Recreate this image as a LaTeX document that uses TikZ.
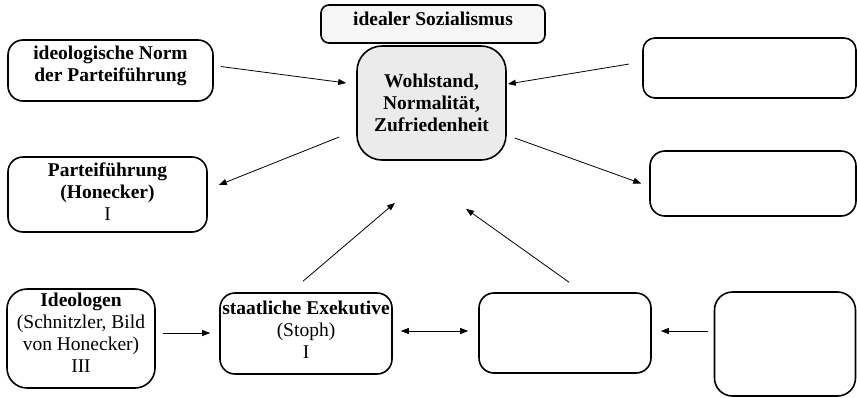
\documentclass[tikz,border=0pt]{standalone}
\usepackage{fontspec}
\setmainfont{Liberation Serif}
\usetikzlibrary{shapes,calc}
\usetikzlibrary{arrows.meta}

\definecolor{lightfill}{RGB}{246,246,246}
\definecolor{midfill}{RGB}{235,235,235}

\begin{document}
\begin{tikzpicture}[x=1pt, y=-1pt]
{\fontsize{19.5}{22}\selectfont
	\tikzstyle{box} = [rectangle, rounded corners=15pt, draw=black, line width=1.6pt, inner sep=0pt, align=center, fill=white]
	\tikzstyle{arrow} = [line width=0.8pt, -{Triangle[length=8pt,width=6pt]}]
	\tikzstyle{twoway} = [line width=0.8pt, {Triangle[length=8pt,width=6pt]}-{Triangle[length=8pt,width=6pt]}]

	\useasboundingbox (0,0) rectangle (857,397);

	\node (ideal) [box, rounded corners=8pt, fill=lightfill, minimum width=224pt, minimum height=38pt] at (433,24) {};
	\node (wohl) [box, rounded corners=25pt, fill=midfill, minimum width=149pt, minimum height=114pt] at (431.5,103) {\textbf{Wohlstand,}\\\textbf{Normalität,}\\\textbf{Zufriedenheit}};
	\node (norm) [box, minimum width=205pt, minimum height=61pt] at (110.5,70.5) {};
	\node (partei) [box, minimum width=199pt, minimum height=75pt] at (107.5,194.5) {};
	\node (rtop) [box, rounded corners=12pt, minimum width=213pt, minimum height=60pt] at (749.5,68) {};
	\node (rmid) [box, minimum width=206pt, minimum height=65pt] at (753,183.5) {};
	\node (ideologen) [box, rounded corners=20pt, minimum width=148pt, minimum height=99pt] at (81,338.5) {};
	\node (exekutive) [box, minimum width=172pt, minimum height=81pt] at (306,333.5) {};
	\node (bmid) [box, minimum width=172pt, minimum height=80pt] at (565,333) {};
	\node (bright) [box, rounded corners=18pt, minimum width=141pt, minimum height=104pt] at (785,344) {};

	% texts sit a little above the box centres
	\node (idealtext) [align=center] at (433,19) {\textbf{idealer Sozialismus}};
	\node (normtext) [align=center] at (110.5,66) {\textbf{ideologische Norm}\\\textbf{der Parteiführung}};
	\node (parteitext) [align=center] at (107.5,192) {\textbf{Parteiführung}\\\textbf{(Honecker)}\\I};
	\node (ideologentext) [align=center] at (81,333) {\textbf{Ideologen}\\(Schnitzler, Bild\\von Honecker)\\III};
	\node (exekutivetext) [align=center] at (306,330) {\textbf{staatliche Exekutive}\\(Stoph)\\I};

	\draw [arrow] ([shift={(7,-4)}]norm.east) -- ([shift={(-10,-20)}]wohl.west);
	\draw [arrow] ([shift={(-13,-4)}]rtop.west) -- ([shift={(1,-19)}]wohl.east);
	\draw [arrow] ([shift={(-17,34)}]wohl.west) -- ([shift={(11,-9.5)}]partei.east);
	\draw [arrow] ([shift={(8,35)}]wohl.east) -- ([shift={(-8,0)}]rmid.west);
	\draw [arrow] ([shift={(-3,-11)}]exekutive.north) -- ([shift={(-36.5,42)}]wohl.south);
	\draw [arrow] ([shift={(4,-10)}]bmid.north) -- ([shift={(34.5,48)}]wohl.south);
	\draw [arrow] ([shift={(7,-5.5)}]ideologen.east) -- ([shift={(-9,-0.5)}]exekutive.west);
	\draw [twoway] ([shift={(8,-2.5)}]exekutive.east) -- ([shift={(-10,-2)}]bmid.west);
	\draw [arrow] ([shift={(-6,-13)}]bright.west) -- ([shift={(9,-2)}]bmid.east);
}
\end{tikzpicture}
\end{document}
